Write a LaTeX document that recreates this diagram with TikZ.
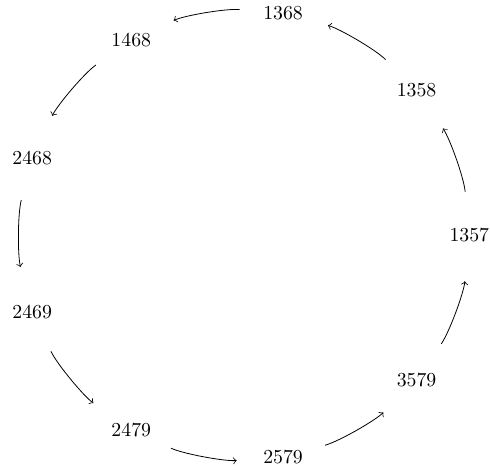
\documentclass[tikz,border=0pt]{standalone}
\begin{document}
\begin{tikzpicture}[
  lbl/.style={circle, minimum size=43.6pt, inner sep=0pt},
  conn/.style={->, bend right=14.5, looseness=0.535, shorten >=1.5pt}
]
\useasboundingbox (-123.2pt,-118.64pt) rectangle (124.25pt,118.64pt);
\node[lbl] (n1357) at (0:4cm) {1357};
\node[lbl] (n1358) at (40:4cm) {1358};
\node[lbl] (n1368) at (80:4cm) {1368};
\node[lbl] (n1468) at (120:4cm) {1468};
\node[lbl] (n2468) at (160:4cm) {2468};
\node[lbl] (n2469) at (200:4cm) {2469};
\node[lbl] (n2479) at (240:4cm) {2479};
\node[lbl] (n2579) at (280:4cm) {2579};
\node[lbl] (n3579) at (320:4cm) {3579};
\draw[conn] (n1357) to (n1358);
\draw[conn] (n1358) to (n1368);
\draw[conn] (n1368) to (n1468);
\draw[conn] (n1468) to (n2468);
\draw[conn] (n2468) to (n2469);
\draw[conn] (n2469) to (n2479);
\draw[conn] (n2479) to (n2579);
\draw[conn] (n2579) to (n3579);
\draw[conn] (n3579) to (n1357);
\end{tikzpicture}
\end{document}
